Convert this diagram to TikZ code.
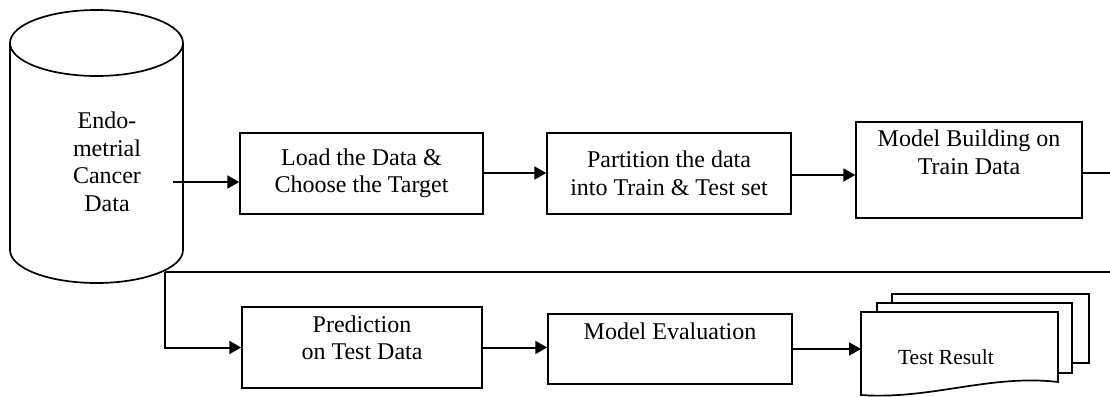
\documentclass[tikz,border=0pt]{standalone}
\usepackage{fontspec}
\setmainfont{Liberation Serif}
\usepackage{tikz}
\usetikzlibrary{positioning,arrows.meta}

\tikzset{
	block/.style={draw, line width=1.5pt, align=center, inner sep=0pt,
		font=\fontsize{24}{27.5}\selectfont},
	flow/.style={line width=2pt, -{Triangle[length=12pt,width=13pt]}},
	wire/.style={line width=1.7pt}
}

\begin{document}
\begin{tikzpicture}[x=1pt,y=-1pt]
	\path[use as bounding box, clip] (0,0) rectangle (1110,396);
	% data store
	\draw[wire] (10,43) -- (10,250) arc[start angle=180, end angle=0, x radius=86.5, y radius=33] -- (183,43);
	\draw[wire] (96.5,43) ellipse [x radius=86.5, y radius=33];
	\node[align=center, font=\fontsize{24}{27.5}\selectfont] (data) at (107,162) {Endo-\\metrial\\Cancer\\Data};
	\coordinate (dataout) at (173,182);
	% steps
	\node[block, minimum width=243pt, minimum height=81pt] (load) at (361.5,173.5) {Load the Data \&\\Choose the Target};
	\node[block, minimum width=244pt, minimum height=81pt] (part) at (669,173.5) {Partition the data\\into Train \& Test set};
	\node[block, minimum width=226pt, minimum height=96pt, text depth=36pt] (build) at (969,170) {Model Building on\\Train Data};
	\node[block, minimum width=240pt, minimum height=81pt, text depth=20pt] (pred) at (362,347.5) {Prediction\\on Test Data};
	\node[block, minimum width=244pt, minimum height=70pt, text depth=36pt] (eval) at (670,349) {Model Evaluation};
	% result pages
	\draw[wire, fill=white] (892,294) rectangle (1089,363);
	\draw[wire, fill=white] (877,303) rectangle (1072,373);
	\draw[wire, fill=white] (861,312) -- (1058,312) -- (1058,382) .. controls (990,374) and (930,400) .. (861,395) -- cycle;
	\coordinate (doc) at (861,312);
	\node[anchor=base, font=\fontsize{21.5}{24}\selectfont] (result) at (946,364) {Test Result};
	% connectors
	\draw[flow] (dataout) -- (dataout -| load.west);
	\draw[flow] ([yshift=0.5pt]load.east) -- ([yshift=0.5pt]load.east -| part.west);
	\draw[flow] ([yshift=-1.5pt]part.east) -- ([yshift=-1.5pt]part.east -| build.west);
	\draw[wire] ([yshift=-3pt]build.east) -- (1125,173) -- (1125,272) -- (165,272);
	\draw[flow] (165,272) |- (pred.west);
	\draw[flow] (pred.east) -- (pred.east -| eval.west);
	\draw[flow] (eval.east) -- (eval.east -| doc);
\end{tikzpicture}
\end{document}
